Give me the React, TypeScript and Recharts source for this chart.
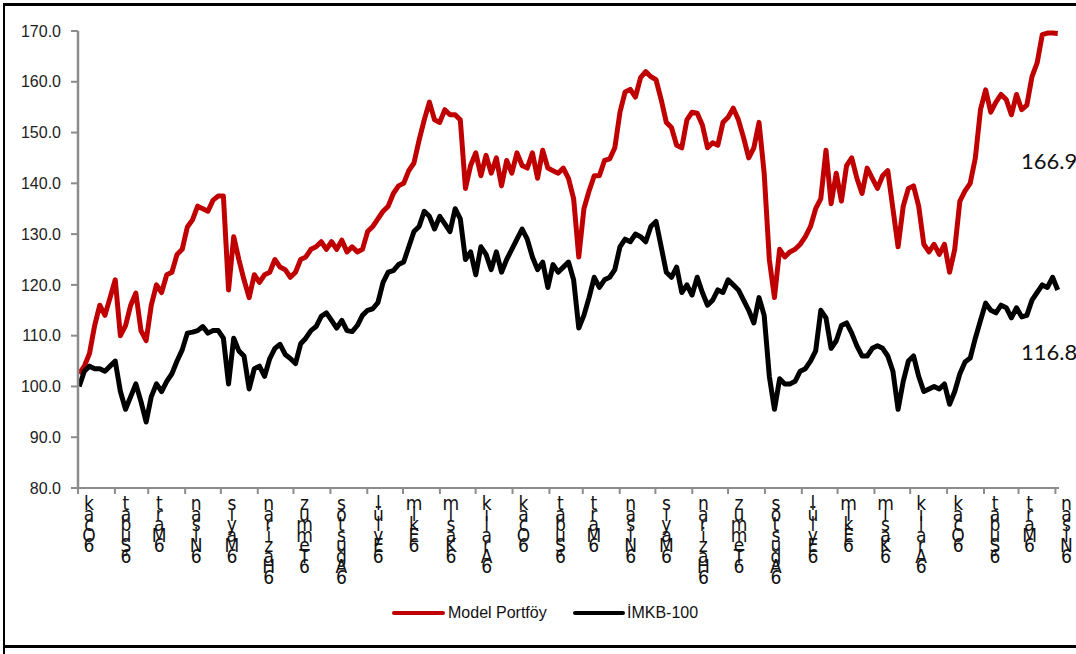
import { LineChart, Line, XAxis, YAxis } from 'recharts';

// Günlük seri, ~3 işlem gününde bir okunmuş değerler (02.01.2006 - 03.04.2008)
const MODEL_PORTFOY = [
  102.5, 104, 106.5, 112, 116, 114, 117.5, 121, 110, 112,
  116, 118.4, 111, 109, 116, 120, 118.5, 122, 122.5, 126,
  127, 131.4, 132.8, 135.5, 135, 134.5, 136.7, 137.5, 137.5, 119,
  129.5, 125, 121, 117.5, 122, 120.5, 122, 122.5, 125, 123.5,
  123, 121.5, 122.5, 125, 125.5, 127, 127.5, 128.5, 127, 128.5,
  127, 128.8, 126.5, 127.5, 126.5, 127, 130.5, 131.5, 133, 134.5,
  135.5, 138, 139.5, 140, 142.5, 144, 148.5, 152.5, 156, 152.5,
  152, 154.5, 153.5, 153.5, 152.5, 139, 143.5, 146, 141.5, 145.5,
  142, 145, 139.5, 144.5, 142, 146, 143.5, 143, 146, 141,
  146.5, 143, 142.5, 142, 143, 141, 137, 125.5, 135, 138.5,
  141.5, 141.5, 144.5, 144.8, 147, 154, 158, 158.5, 157, 160.8,
  162, 161, 160.4, 156.5, 152, 151, 147.5, 147, 152.5, 154,
  153.8, 151.5, 147, 148, 147.5, 152, 153, 154.8, 152.5, 149,
  145, 147, 152, 142, 125, 117.5, 127, 125.5, 126.5, 127,
  128, 129.5, 131.5, 135, 137, 146.5, 136, 142, 136.5, 143.5,
  145, 141, 138, 143, 141, 139, 141.5, 142.5, 135, 127.5,
  135.5, 139, 139.5, 135.5, 128, 126.5, 128, 126, 128, 122.5,
  127, 136.5, 138.5, 140, 145, 154.5, 158.4, 154, 156, 157.5,
  156.5, 153.5, 157.5, 154.5, 155.4, 161, 163.7, 169.3, 169.6, 169.6,
  169.5,
];

const IMKB_100 = [
  100, 103, 104, 103.5, 103.5, 103, 104, 105, 99, 95.5,
  98, 100.5, 97, 93, 98, 100.5, 99, 101, 102.5, 105,
  107.2, 110.5, 110.7, 111, 111.8, 110.5, 111, 111, 109.5, 100.5,
  109.5, 107, 106, 99.5, 103.5, 104, 102, 105.5, 107.5, 108.3,
  106.3, 105.5, 104.5, 108.4, 109.5, 111, 111.8, 113.8, 114.5, 113,
  111.5, 113, 111, 110.8, 112, 114, 115, 115.3, 116.5, 120.5,
  122.5, 122.8, 124, 124.5, 127.5, 130.5, 131.5, 134.5, 133.5, 131,
  133.5, 132, 130.5, 135, 133, 125, 126.5, 122, 127.5, 126,
  123, 126.5, 122.5, 125, 127, 129, 131, 129, 125.5, 123,
  124.5, 119.5, 124, 122.5, 123.5, 124.5, 121, 111.5, 114, 117.5,
  121.5, 119.5, 121, 121.5, 123, 127.5, 129, 128.5, 130, 129.5,
  128.5, 131.5, 132.5, 127.5, 122.5, 121.5, 123.5, 118.5, 120, 118,
  121.5, 118.5, 116, 117, 119, 118.5, 121, 120, 119, 117,
  115, 112.5, 117.5, 114, 102, 95.5, 101.5, 100.5, 100.5, 101,
  103, 103.5, 105, 107, 115, 113.5, 107.5, 109, 112, 112.5,
  110.5, 108, 106, 106, 107.5, 108, 107.5, 106, 103, 95.5,
  101, 105, 106, 102, 99, 99.5, 100, 99.5, 100.5, 96.5,
  99, 102.5, 104.8, 105.6, 109.5, 113, 116.4, 115, 114.5, 116,
  115.5, 113.5, 115.5, 113.7, 114, 117, 118.5, 120, 119.5, 121.5,
  119,
];

// ay başları (01.01.2006'dan itibaren gün)
const MONTH_START_DAYS = [
  0, 31, 59, 90, 120, 151, 181, 212, 243, 273, 304, 334,
  365, 396, 424, 455, 485, 516, 546, 577, 608, 638, 669, 699,
  730, 761, 790, 821,
];
const MONTH_NAMES = [
  'Ocak', 'Şubat', 'Mart', 'Nisan', 'Mayıs', 'Haziran', 'Temmuz', 'Ağustos', 'Eylül', 'Ekim', 'Kasım', 'Aralık',
  'Ocak', 'Şubat', 'Mart', 'Nisan', 'Mayıs', 'Haziran', 'Temmuz', 'Ağustos', 'Eylül', 'Ekim', 'Kasım', 'Aralık',
  'Ocak', 'Şubat', 'Mart', 'Nisan',
];
const Y_TICKS = [80, 90, 100, 110, 120, 130, 140, 150, 160, 170];

const FIRST_DAY = 1;
const SAMPLE_DAYS = 4.326;

const data = MODEL_PORTFOY.map((v, i) => ({
  day: FIRST_DAY + i * SAMPLE_DAYS,
  model: v,
  imkb: IMKB_100[i],
}));

const AXIS = '#8c8c8c';
const FONT = '"Liberation Sans", Arial, sans-serif';
const NARROW = '"Liberation Sans Narrow", "DejaVu Sans Condensed", "Liberation Sans", sans-serif';

// harfler dikey, üst üste binmiş halde (orijinaldeki gibi)
function StackedTick(props: any) {
  const { x, y, index } = props;
  const name = MONTH_NAMES[index] ?? '';
  const chars = [...name].reverse().concat(['6']);
  return (
    <text x={x + 11} y={y} textAnchor="middle" fill="#111" fontSize={19} fontFamily={NARROW}>
      {chars.map((c, i) => (
        <tspan key={i} x={x + 11} dy={i === 0 ? 14 : 10.5}>{c}</tspan>
      ))}
    </text>
  );
}

export default function App() {
  return (
    <div style={{ position: 'absolute', left: 0, top: 0, width: 1076, height: 654, background: '#fff', overflow: 'hidden' }}>
      <div style={{ position: 'absolute', left: 3, top: 3, width: 1073, height: 3, background: '#000' }} />
      <div style={{ position: 'absolute', left: 3, top: 3, width: 2, height: 651, background: '#000' }} />
      <div style={{ position: 'absolute', left: 3, top: 645, width: 1073, height: 3, background: '#000' }} />

      <LineChart width={1076} height={654} data={data} margin={{ top: 31, right: 17, left: 18, bottom: 76 }}>
        <XAxis
          type="number"
          dataKey="day"
          domain={[0, 824]}
          ticks={MONTH_START_DAYS}
          interval={0}
          height={90}
          tickSize={6}
          tickMargin={2}
          axisLine={{ stroke: AXIS, strokeWidth: 2 }}
          tickLine={{ stroke: AXIS, strokeWidth: 2 }}
          tick={<StackedTick />}
        />
        <YAxis
          type="number"
          domain={[80, 170]}
          ticks={Y_TICKS}
          interval={0}
          width={60}
          tickSize={7}
          tickMargin={10}
          axisLine={{ stroke: AXIS, strokeWidth: 2.5 }}
          tickLine={{ stroke: AXIS, strokeWidth: 2 }}
          tick={{ fill: '#222', fontSize: 16, fontFamily: FONT }}
          tickFormatter={(v: number) => v.toFixed(1)}
        />
        <Line type="linear" dataKey="model" stroke="#C00000" strokeWidth={5} dot={false} strokeLinejoin="round" isAnimationActive={false} />
        <Line type="linear" dataKey="imkb" stroke="#000" strokeWidth={5} dot={false} strokeLinejoin="round" isAnimationActive={false} />
      </LineChart>

      <div style={{ position: 'absolute', left: 1021, top: 147, fontFamily: 'Lato, sans-serif', fontSize: 22, color: '#111', lineHeight: '28px' }}>166.9</div>
      <div style={{ position: 'absolute', left: 1021, top: 338, fontFamily: 'Lato, sans-serif', fontSize: 22, color: '#111', lineHeight: '28px' }}>116.8</div>

      <div style={{ position: 'absolute', left: 0, top: 602, width: 1076, height: 22, fontFamily: FONT, fontSize: 16, color: '#111' }}>
        <div style={{ position: 'absolute', left: 392, top: 9, width: 53, height: 4, borderRadius: 2, background: '#C00000' }} />
        <div style={{ position: 'absolute', left: 448, top: 0, lineHeight: '22px' }}>Model Portföy</div>
        <div style={{ position: 'absolute', left: 573, top: 9, width: 52, height: 4, borderRadius: 2, background: '#000' }} />
        <div style={{ position: 'absolute', left: 627, top: 0, lineHeight: '22px' }}>İMKB-100</div>
      </div>
    </div>
  );
}
